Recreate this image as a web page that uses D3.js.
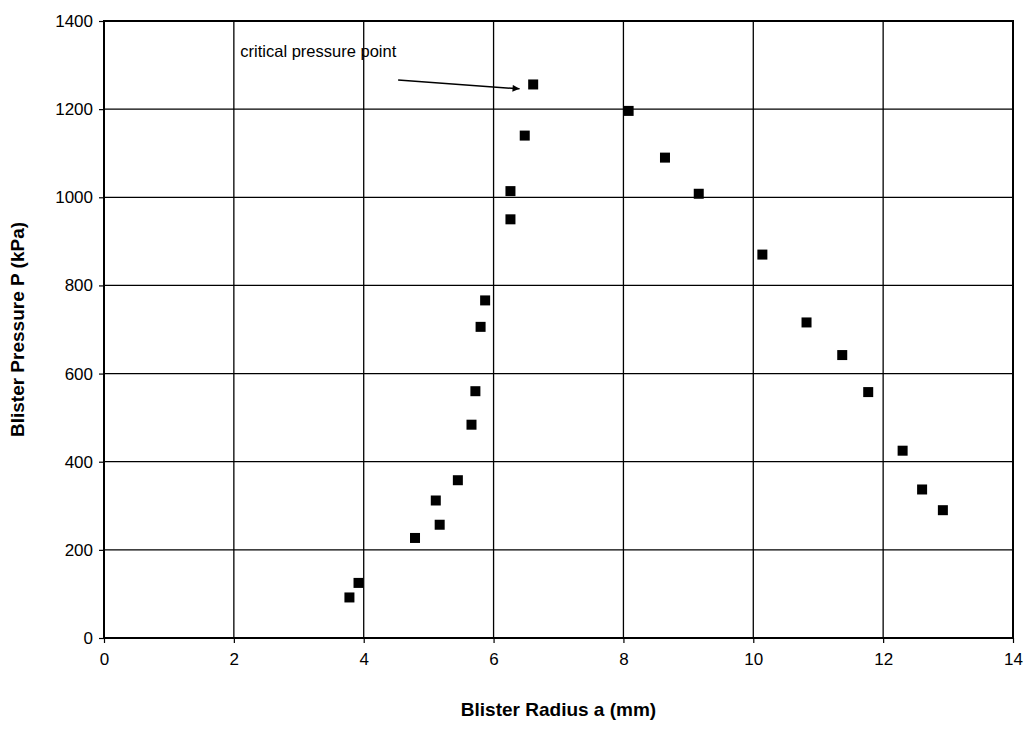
<!DOCTYPE html>
<html>
<head>
<meta charset="utf-8">
<script src="https://d3js.org/d3.v7.min.js"></script>
<style>
  body { margin: 0; background: #fff; }
  text { font-family: Arial, "Liberation Sans", sans-serif; }
</style>
</head>
<body>
<script>
// blister radius a (mm) and pressure P (kPa)
var radius = [3.78, 3.92, 4.79, 5.11, 5.17, 5.45, 5.66, 5.72, 5.8, 5.87, 6.26, 6.26, 6.48, 6.61,
              8.08, 8.64, 9.16, 10.14, 10.82, 11.37, 11.77, 12.3, 12.6, 12.92];
var pressure = [92, 125, 227, 312, 257, 358, 484, 560, 706, 766, 950, 1014, 1140, 1256,
                1196, 1090, 1008, 870, 716, 642, 558, 425, 337, 290];

var xTicks = [0, 2, 4, 6, 8, 10, 12, 14];
var yTicks = [0, 200, 400, 600, 800, 1000, 1200, 1400];

var noteText = "critical pressure point";
var notePos = [2.1, 1318];
var arrowFrom = [4.53, 1266];
var arrowTo = [6.4, 1246];

var width = 1028, height = 730;
var mLeft = 104, mRight = 1013, mTop = 21, mBottom = 638;

var svg = d3.select("body").append("svg")
    .attr("width", width)
    .attr("height", height);

var x = d3.scaleLinear().domain([0, 14]).range([mLeft, mRight]);
var y = d3.scaleLinear().domain([0, 1400]).range([mBottom, mTop]);

svg.append("defs").append("marker")
    .attr("id", "head")
    .attr("viewBox", "0 0 10 10")
    .attr("refX", 10).attr("refY", 5)
    .attr("markerWidth", 11).attr("markerHeight", 7)
    .attr("markerUnits", "userSpaceOnUse")
    .attr("orient", "auto")
    .append("path").attr("d", "M0,0 L10,5 L0,10 z").attr("fill", "#000");

// grid
svg.append("g").selectAll("line")
    .data(xTicks).join("line")
    .attr("x1", d => x(d)).attr("x2", d => x(d))
    .attr("y1", mTop).attr("y2", mBottom)
    .attr("stroke", "#000").attr("stroke-width", 1.3);

svg.append("g").selectAll("line")
    .data(yTicks).join("line")
    .attr("x1", mLeft).attr("x2", mRight)
    .attr("y1", d => y(d)).attr("y2", d => y(d))
    .attr("stroke", "#000").attr("stroke-width", 1.3);

svg.append("rect")
    .attr("x", mLeft).attr("y", mTop)
    .attr("width", mRight - mLeft).attr("height", mBottom - mTop)
    .attr("fill", "none").attr("stroke", "#000").attr("stroke-width", 2);

// axes
var xAxis = svg.append("g")
    .attr("transform", "translate(0," + mBottom + ")")
    .call(d3.axisBottom(x).tickValues(xTicks).tickSize(5).tickPadding(10).tickFormat(d3.format("d")));
var yAxis = svg.append("g")
    .attr("transform", "translate(" + mLeft + ",0)")
    .call(d3.axisLeft(y).tickValues(yTicks).tickSize(5).tickPadding(6).tickFormat(d3.format("d")));

[xAxis, yAxis].forEach(function (g) {
  g.select(".domain").remove();
  g.selectAll("line").attr("stroke", "#000").attr("stroke-width", 1.2);
  g.selectAll("text").attr("fill", "#000").style("font-size", "17px");
});

svg.append("text")
    .attr("x", (mLeft + mRight) / 2).attr("y", 716)
    .attr("text-anchor", "middle")
    .style("font-size", "19px").style("font-weight", "bold")
    .text("Blister Radius a (mm)");

svg.append("text")
    .attr("transform", "translate(24," + (mTop + mBottom) / 2 + ") rotate(-90)")
    .attr("text-anchor", "middle")
    .style("font-size", "19px").style("font-weight", "bold")
    .text("Blister Pressure P (kPa)");

// points
svg.append("g").selectAll("rect")
    .data(radius.map((r, i) => [r, pressure[i]]))
    .join("rect")
    .attr("x", d => x(d[0]) - 5)
    .attr("y", d => y(d[1]) - 5)
    .attr("width", 10).attr("height", 10)
    .attr("fill", "#000");

// annotation
svg.append("text")
    .attr("x", x(notePos[0])).attr("y", y(notePos[1]))
    .style("font-size", "16.5px")
    .text(noteText);

svg.append("line")
    .attr("x1", x(arrowFrom[0])).attr("y1", y(arrowFrom[1]))
    .attr("x2", x(arrowTo[0])).attr("y2", y(arrowTo[1]))
    .attr("stroke", "#000").attr("stroke-width", 1.5)
    .attr("marker-end", "url(#head)");
</script>
</body>
</html>
